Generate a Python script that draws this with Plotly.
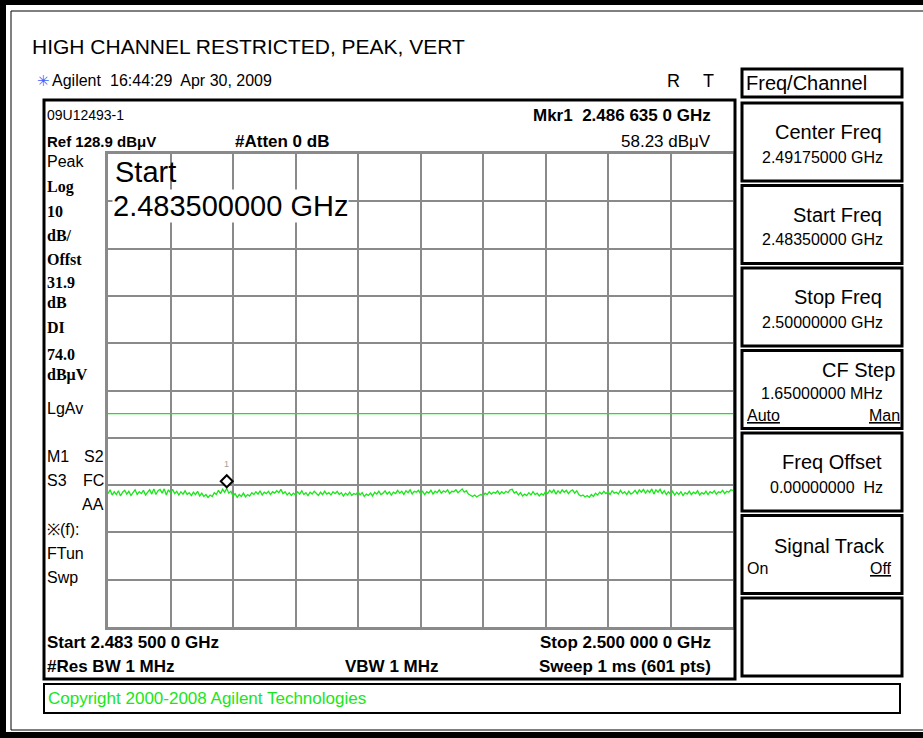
import numpy as np
import plotly.graph_objects as go

# ── 측정 설정 ──
FREQ_START = 2.4835      # GHz
FREQ_STOP = 2.5000       # GHz
REF_LEVEL = 128.9        # dBuV
DB_PER_DIV = 10
DISPLAY_LINE = 74.0      # dBuV (LgAv limit)
MKR_FREQ = 2.486635      # GHz
MKR_LEVEL = 58.23        # dBuV

# trace (dBuV), every other sweep point, start -> stop
TRACE_DBUV = [
    57.1, 57.9, 56.8, 57.5, 56.9, 57.7, 56.6, 57.4, 57.8, 57.0,
    57.6, 56.7, 57.3, 57.9, 56.9, 57.5, 57.1, 57.8, 56.8, 57.4,
    57.9, 57.0, 58.1, 56.9, 57.7, 58.0, 57.2, 58.1, 56.8, 57.9,
    57.3, 58.0, 57.1, 57.6, 56.8, 57.5, 57.0, 57.7, 56.9, 57.3,
    56.7, 57.4, 56.9, 57.6, 56.6, 57.2, 56.5, 56.9, 56.3, 56.8,
    56.5, 57.3, 56.9, 57.8, 57.1, 58.0, 57.4, 58.2, 57.2, 57.6,
    56.6, 57.1, 56.3, 56.9, 56.5, 57.2, 56.4, 56.9, 56.6, 57.3,
    56.9, 57.5, 57.0, 57.7, 56.8, 57.4, 57.1, 57.6, 56.9, 57.5,
    57.2, 57.7, 57.3, 58.0, 57.1, 57.5, 56.8, 57.3, 56.7, 57.2,
    56.8, 57.5, 57.0, 57.7, 56.9, 57.3, 56.7, 57.4, 57.0, 57.6,
    57.1, 56.7, 57.4, 56.9, 57.6, 57.0, 57.3, 56.8, 57.5, 57.1,
    57.6, 56.9, 57.3, 56.6, 57.2, 56.8, 57.4, 56.7, 57.1, 56.9,
    57.5, 56.8, 57.3, 56.5, 57.0, 56.7, 57.2, 56.6, 57.4, 57.0,
    57.6, 56.9, 57.2, 57.7, 57.0, 57.5, 56.8, 57.4, 57.1, 57.8,
    57.2, 57.6, 56.9, 57.7, 57.3, 57.9, 57.0, 57.6, 57.4, 57.8,
    57.1, 57.6, 56.9, 57.5, 57.2, 57.8, 57.0, 57.6, 57.3, 57.9,
    57.2, 57.7, 57.4, 57.9, 57.1, 57.6, 57.5, 57.9, 57.3, 57.8,
    58.1, 57.4, 57.7, 57.0, 56.7, 56.5, 56.8, 56.4, 56.7, 56.9,
    56.6, 57.2, 56.9, 57.5, 57.0, 57.4, 57.2, 57.7, 57.0, 57.5,
    57.1, 57.6, 57.3, 57.9, 58.0, 57.2, 57.5, 56.8, 57.3, 56.6,
    57.0, 56.7, 57.3, 56.8, 57.5, 56.9, 57.2, 56.6, 57.1, 56.8,
    57.5, 57.1, 57.8, 57.3, 57.9, 57.0, 57.7, 57.2, 57.9, 57.4,
    57.8, 57.1, 57.6, 57.9, 57.2, 57.7, 56.9, 56.6, 56.8, 56.4,
    56.7, 56.3, 56.9, 56.5, 57.2, 56.8, 57.4, 57.0, 57.6, 57.1,
    57.5, 56.9, 57.7, 57.2, 57.4, 57.0, 57.8, 57.1, 57.5, 56.9,
    57.6, 57.0, 57.3, 57.8, 57.1, 57.9, 57.4, 58.0, 57.2, 57.8,
    57.3, 58.1, 57.0, 57.9, 57.4, 58.0, 57.1, 57.7, 56.9, 57.5,
    57.0, 57.6, 56.8, 57.4, 56.9, 57.5, 56.7, 57.3, 57.0, 57.6,
    56.9, 57.4, 57.1, 57.7, 56.8, 57.3, 57.0, 57.6, 56.9, 57.5,
    57.2, 57.7, 57.0, 57.5, 57.3, 57.8, 57.1, 57.6, 57.4, 57.9,
    57.8,
]

# soft key panel: (label, value, (left option, right option))
SOFTKEYS = [
    ("Center Freq", "2.49175000 GHz", None),
    ("Start Freq", "2.48350000 GHz", None),
    ("Stop Freq", "2.50000000 GHz", None),
    ("CF Step", "1.65000000 MHz", ("Auto", "Man")),
    ("Freq Offset", "0.00000000  Hz", None),
    ("Signal Track", "", ("On", "Off")),
    ("", "", None),
]

W, H = 923, 738
SANS = "Liberation Sans"
SERIF = "Liberation Serif"
GREEN = "#19e619"
GRID = "#8a8a8a"


def px(x):
    return x / W


def py(y):
    return 1 - y / H


shapes = []
annos = []


def rect(x0, y0, x1, y1, width=3, color="black"):
    shapes.append(dict(type="rect", xref="paper", yref="paper",
                       x0=px(x0), x1=px(x1), y0=py(y1), y1=py(y0),
                       line=dict(color=color, width=width), layer="above"))


def text(x, y, s, size=15, anchor="left", bold=False, family=SANS, color="black", **kw):
    if bold:
        s = f"<b>{s}</b>"
    annos.append(dict(xref="paper", yref="paper", x=px(x), y=py(y), text=s,
                      showarrow=False, xanchor=anchor, yanchor="middle",
                      font=dict(family=family, size=size, color=color), **kw))


# ── 바깥 프레임 ──
rect(3, 2, 930, 735, width=6)
rect(11, 11, 930, 730, width=1)

# ── 상단 타이틀 ──
text(30, 46, "HIGH CHANNEL RESTRICTED, PEAK, VERT", size=21)
text(35, 81, "✳", size=15, color="#3f5fff")
text(50, 81, "Agilent", size=16)
text(108, 81, "16:44:29  Apr 30, 2009", size=16)
text(665, 81, "R", size=18)
text(701, 81, "T", size=18)

# ── 표시 영역 박스 ──
rect(44, 100, 735, 679, width=3)
rect(44, 684, 900, 713, width=2)
text(46, 698, "Copyright 2000-2008 Agilent Technologies", size=17, color=GREEN)

# header lines
text(45, 115, "09U12493-1", size=14)
text(713, 115, "Mkr1  2.486 635 0 GHz", size=17, anchor="right", bold=True)
text(45, 141, "Ref 128.9 dBμV", size=15, bold=True)
text(233, 141, "#Atten 0 dB", size=17, bold=True)
text(713, 141, "58.23 dBμV", size=17, anchor="right")

# left status column
left_labels = [
    ("Peak", 162, False, SANS), ("Log", 187, True, SERIF), ("10", 211, True, SERIF),
    ("dB/", 235, True, SERIF), ("Offst", 259, True, SERIF), ("31.9", 282, True, SERIF),
    ("dB", 302, True, SERIF), ("DI", 327, True, SERIF), ("74.0", 354, True, SERIF),
    ("dBμV", 375, True, SERIF), ("LgAv", 408, False, SANS), ("M1", 456, False, SANS),
    ("S3", 480, False, SANS), ("※(f):", 529, False, SANS), ("FTun", 553, False, SANS),
    ("Swp", 577, False, SANS),
]
for s, y, b, fam in left_labels:
    text(45, y, s, size=16, bold=b, family=fam)
text(106, 456, "S2", size=16, anchor="right")
text(106, 480, "FC", size=16, anchor="right")
text(106, 504, "AA", size=16, anchor="right")

# footer lines
text(45, 642, "Start 2.483 500 0 GHz", size=17, bold=True)
text(713, 642, "Stop 2.500 000 0 GHz", size=17, anchor="right", bold=True)
text(45, 666, "#Res BW 1 MHz", size=17, bold=True)
text(343, 666, "VBW 1 MHz", size=17, bold=True)
text(713, 666, "Sweep 1 ms (601 pts)", size=17, anchor="right", bold=True)

# big active-function text
text(113, 172, "Start", size=29)
text(112, 206, "2.483500000 GHz", size=29, bgcolor="white", borderpad=0)

# ── 소프트키 ──
rect(742, 69, 902, 97, width=3)
text(744, 83, "Freq/Channel", size=20)
for i, (label, value, opts) in enumerate(SOFTKEYS):
    y0 = 103 + i * 82.5
    rect(742, y0, 902, y0 + 78, width=3)
    if opts and value:
        # label / value / both options underlined
        text(897, y0 + 19, label, size=20, anchor="right")
        text(885, y0 + 43, value, size=16, anchor="right")
        text(745, y0 + 65, f"<u>{opts[0]}</u>", size=16)
        text(902, y0 + 65, f"<u>{opts[1]}</u>", size=16, anchor="right")
    elif opts:
        text(887, y0 + 30, label, size=20, anchor="right")
        text(745, y0 + 53, opts[0], size=16)
        text(894, y0 + 53, f"<u>{opts[1]}</u>", size=16, anchor="right")
    elif label:
        text(884, y0 + 29, label, size=20, anchor="right")
        text(885, y0 + 54, value, size=16, anchor="right")

# ── 트레이스 ──
freq = np.linspace(FREQ_START, FREQ_STOP, len(TRACE_DBUV))
fig = go.Figure()
fig.add_trace(go.Scatter(x=freq, y=TRACE_DBUV, mode="lines",
                         line=dict(color=GREEN, width=1.3), hoverinfo="skip"))

# display line + marker
shapes.append(dict(type="line", xref="x", yref="y", x0=FREQ_START, x1=FREQ_STOP,
                   y0=DISPLAY_LINE, y1=DISPLAY_LINE, line=dict(color=GREEN, width=1.2)))
shapes.append(dict(type="path", xref="x", yref="y", xsizemode="pixel", ysizemode="pixel",
                   xanchor=MKR_FREQ, yanchor=MKR_LEVEL,
                   path="M 0 1 L 6 7 L 0 13 L -6 7 Z",
                   line=dict(color="black", width=2), fillcolor="white"))
annos.append(dict(xref="x", yref="y", x=MKR_FREQ, y=MKR_LEVEL, yshift=24, text="1",
                  showarrow=False, font=dict(family=SANS, size=9, color="#a0a0a0")))

bottom = REF_LEVEL - 10 * DB_PER_DIV
fig.update_layout(
    width=W, height=H, autosize=False,
    margin=dict(l=0, r=0, t=0, b=0),
    paper_bgcolor="white", plot_bgcolor="white",
    showlegend=False,
    shapes=shapes, annotations=annos,
    xaxis=dict(domain=[px(108), px(733)], range=[FREQ_START, FREQ_STOP],
               tick0=FREQ_START, dtick=(FREQ_STOP - FREQ_START) / 10,
               showgrid=True, gridcolor=GRID, gridwidth=2, zeroline=False,
               showticklabels=False, ticks="", showline=True, mirror=True,
               linecolor=GRID, linewidth=3, fixedrange=True),
    yaxis=dict(domain=[py(627), py(154)], range=[bottom, REF_LEVEL],
               tick0=bottom, dtick=DB_PER_DIV,
               showgrid=True, gridcolor=GRID, gridwidth=2, zeroline=False,
               showticklabels=False, ticks="", showline=True, mirror=True,
               linecolor=GRID, linewidth=3, fixedrange=True),
)

# body 기본 여백(8px) 제거, 모드바 숨김
fig.write_html("out.html", config={"displayModeBar": False},
               post_script="document.body.style.margin='0px';")
